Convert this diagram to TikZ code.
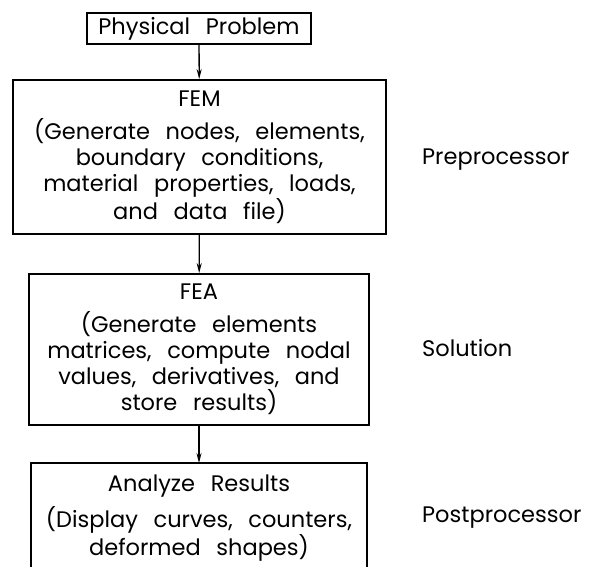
\documentclass[tikz,border=0pt]{standalone}
\usepackage{fontspec}
\setmainfont{Poppins}[WordSpace=2.6]
\usetikzlibrary{positioning}
\usetikzlibrary{arrows.meta}

\begin{document}
\begin{tikzpicture}[x=1pt, y=-1pt]
        % ================= styles =================
        \tikzset{
            % flow chart boxes
            box/.style={draw=black, line width=1.8pt, align=center, inner sep=0pt, font=\fontsize{22.5}{26}\selectfont},
            % plain text inside the open box
            boxtext/.style={align=center, inner sep=0pt, font=\fontsize{22.5}{26}\selectfont},
            % stage names on the right
            stage/.style={anchor=west, inner sep=0pt, font=\fontsize{22.5}{26}\selectfont},
            % arrows between boxes
            flow/.style={line width=1.3pt, -{Stealth[length=10pt, width=5pt]}},
            % border of the last box
            border/.style={line width=1.8pt, black}
        }
        \useasboundingbox (0,0) rectangle (589,566);
        \clip (0,0) rectangle (589,566);

        % ================= 1. boxes =================
        \node[box, minimum width=224pt, minimum height=31pt] (phys) at (199,28.5) {Physical Problem};
        \node[box, minimum width=373pt, minimum height=154pt] (fem) at (199.5,157)
            {FEM\\[7pt] (Generate nodes, elements,\\ boundary conditions,\\ material properties, loads,\\ and data file)};
        \node[box, minimum width=340pt, minimum height=151pt] (fea) at (199,349.5)
            {FEA\\[7pt] (Generate elements\\ matrices, compute nodal\\ values, derivatives, and\\ store results)};
        \node[boxtext] (ana) at (199,518)
            {Analyze Results\\[8pt] (Display curves, counters,\\ deformed shapes)};

        % --- open box round the results ---
        \coordinate (anaNW) at (31,463);
        \coordinate (anaNE) at (367,463);
        \coordinate (anaSW) at (31,575);
        \coordinate (anaSE) at (367,575);
        \draw[border] (anaSW) -- (anaNW) -- (anaNE) -- (anaSE);

        % ================= 2. stage names =================
        \node[stage] (pre) at (422,160) {Preprocessor};
        \node[stage] (sol) at (422,348) {Solution};
        \node[stage] (post) at (422,518) {Postprocessor};

        % ================= 3. arrows =================
        \draw[flow] (phys) -- (fem);
        \draw[flow] (fem) -- (fea);
        \draw[flow] (fea) -- (fea.south |- anaNW);

    \end{tikzpicture}
\end{document}
